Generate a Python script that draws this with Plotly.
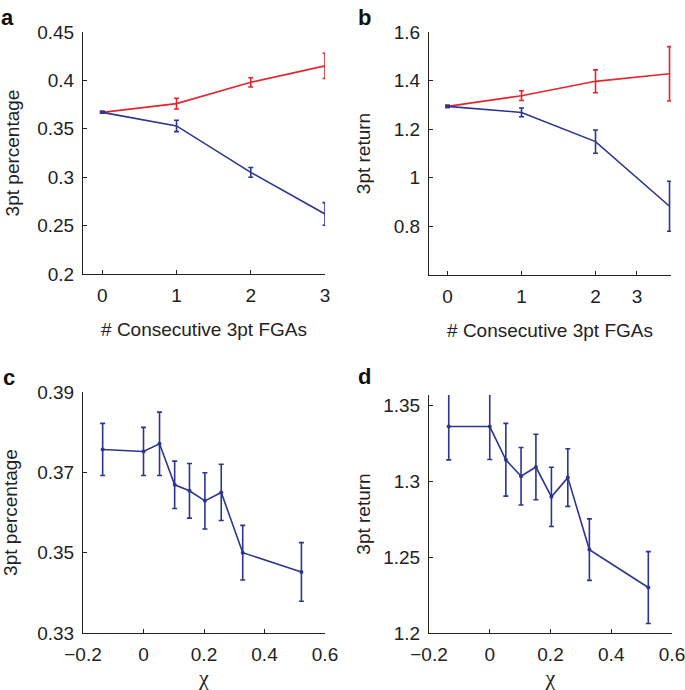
import plotly.graph_objects as go

# Panel a: 3pt percentage vs consecutive 3pt FGAs
a_x = [0, 1, 2, 3]
a_red = [0.367, 0.376, 0.398, 0.415]
a_red_err = [0.001, 0.0055, 0.0048, 0.013]
a_blue = [0.367, 0.353, 0.305, 0.262]
a_blue_err = [0.001, 0.0059, 0.005, 0.0117]

# Panel b: 3pt return vs consecutive 3pt FGAs
b_x = [0, 1, 2, 3]
b_red = [1.294, 1.338, 1.397, 1.428]
b_red_err = [0.004, 0.02, 0.047, 0.112]
b_blue = [1.294, 1.269, 1.149, 0.883]
b_blue_err = [0.004, 0.018, 0.048, 0.103]

# Panels c, d: vs chi
chi = [-0.135, 0.0, 0.053, 0.103, 0.152, 0.203, 0.257, 0.328, 0.522]
c_pct = [0.3757, 0.3752, 0.3771, 0.3669, 0.3654, 0.3629, 0.3650, 0.3500, 0.3452]
c_err = [0.0065, 0.0060, 0.0079, 0.0059, 0.0068, 0.0070, 0.0070, 0.0068, 0.0073]
d_ret = [1.3362, 1.3362, 1.3143, 1.3034, 1.3095, 1.2898, 1.3025, 1.2550, 1.2300]
d_err = [0.0220, 0.0217, 0.0240, 0.0190, 0.0216, 0.0195, 0.0190, 0.0203, 0.0237]

RED = "#e2262d"
BLUE = "#2c358f"
FONT = "Liberation Sans, Arial, sans-serif"
SERIF = "Liberation Serif, DejaVu Serif, serif"

fig = go.Figure()

def line(x, y, err, color, xa, ya, marker=False):
    fig.add_trace(go.Scatter(
        x=x, y=y, xaxis=xa, yaxis=ya,
        mode="lines+markers" if marker else "lines",
        line=dict(color=color, width=1.6),
        marker=dict(color=color, size=4),
        error_y=dict(type="data", array=err, visible=True, color=color,
                     thickness=1.6, width=2.5),
        showlegend=False, hoverinfo="skip", cliponaxis=False))

line(a_x, a_red, a_red_err, RED, "x", "y")
line(a_x, a_blue, a_blue_err, BLUE, "x", "y")
line(b_x, b_red, b_red_err, RED, "x2", "y2")
line(b_x, b_blue, b_blue_err, BLUE, "x2", "y2")
line(chi, c_pct, c_err, BLUE, "x3", "y3", marker=True)
line(chi, d_ret, d_err, BLUE, "x4", "y4", marker=True)

W, H = 685, 690
def xd(l, r):
    return [l / W, r / W]
def yd(top, bot):
    return [1 - bot / H, 1 - top / H]

FS = 19
tickfont = dict(family=FONT, size=FS, color="#222")
titlefont = dict(family=FONT, size=FS, color="#222")
chifont = dict(family=SERIF, size=22, color="#222")
common = dict(showline=True, linecolor="#222", linewidth=1, ticks="inside",
              ticklen=4, tickcolor="#222", showgrid=False, zeroline=False,
              tickfont=tickfont, mirror=False, ticklabelstandoff=4,
              automargin=False, ticklabeloverflow="allow")

fig.update_layout(
    width=W, height=H, margin=dict(l=0, r=0, t=0, b=0),
    plot_bgcolor="white", paper_bgcolor="white",
    xaxis=dict(common, domain=xd(83, 325), anchor="y", range=[-0.26, 3.0],
               tickvals=[0, 1, 2, 3], ticktext=["0", "1", "2", "3"],
               title=dict(text="# Consecutive 3pt FGAs", font=titlefont, standoff=17)),
    yaxis=dict(common, domain=yd(32, 274), anchor="x", range=[0.2, 0.45],
               tickvals=[0.2, 0.25, 0.3, 0.35, 0.4, 0.45],
               ticktext=["0.2", "0.25", "0.3", "0.35", "0.4", "0.45"],
               title=dict(text="3pt percentage", font=titlefont, standoff=12)),
    xaxis2=dict(common, domain=xd(429, 671), anchor="y2", range=[-0.25, 3.02],
                tickvals=[0, 1, 2, 2.56], ticktext=["0", "1", "2", "3"],
                title=dict(text="# Consecutive 3pt FGAs", font=titlefont, standoff=17)),
    yaxis2=dict(common, domain=yd(32, 275), anchor="x2", range=[0.6, 1.6],
                tickvals=[0.8, 1.0, 1.2, 1.4, 1.6],
                ticktext=["0.8", "1", "1.2", "1.4", "1.6"],
                title=dict(text="3pt return", font=titlefont, standoff=18)),
    xaxis3=dict(common, domain=xd(83, 325), anchor="y3", range=[-0.2, 0.6],
                tickvals=[-0.2, 0, 0.2, 0.4, 0.6],
                ticktext=["\u22120.2", "0", "0.2", "0.4", "0.6"],
                title=dict(text="\u03c7", font=chifont, standoff=6)),
    yaxis3=dict(common, domain=yd(392, 633), anchor="x3", range=[0.33, 0.39],
                tickvals=[0.33, 0.35, 0.37, 0.39],
                ticktext=["0.33", "0.35", "0.37", "0.39"],
                title=dict(text="3pt percentage", font=titlefont, standoff=14)),
    xaxis4=dict(common, domain=xd(429, 672), anchor="y4", range=[-0.2, 0.6],
                tickvals=[-0.2, 0, 0.2, 0.4, 0.6],
                ticktext=["\u22120.2", "0", "0.2", "0.4", "0.6"],
                title=dict(text="\u03c7", font=chifont, standoff=6)),
    yaxis4=dict(common, domain=yd(395, 633), anchor="x4", range=[1.2, 1.357],
                tickvals=[1.2, 1.25, 1.3, 1.35],
                ticktext=["1.2", "1.25", "1.3", "1.35"],
                title=dict(text="3pt return", font=titlefont, standoff=7)),
)

labels = [("a", 7, 17), ("b", 364, 17), ("c", 9, 377), ("d", 364, 376)]
for t, px, py in labels:
    fig.add_annotation(text="<b>" + t + "</b>", x=px / W, y=1 - py / H,
                       xref="paper", yref="paper", showarrow=False,
                       font=dict(family=FONT, size=22, color="#111"),
                       xanchor="center", yanchor="middle")

fig.write_html("out.html", config={"displayModeBar": False},
               post_script="document.body.style.margin='0';document.body.style.overflow='hidden';")
